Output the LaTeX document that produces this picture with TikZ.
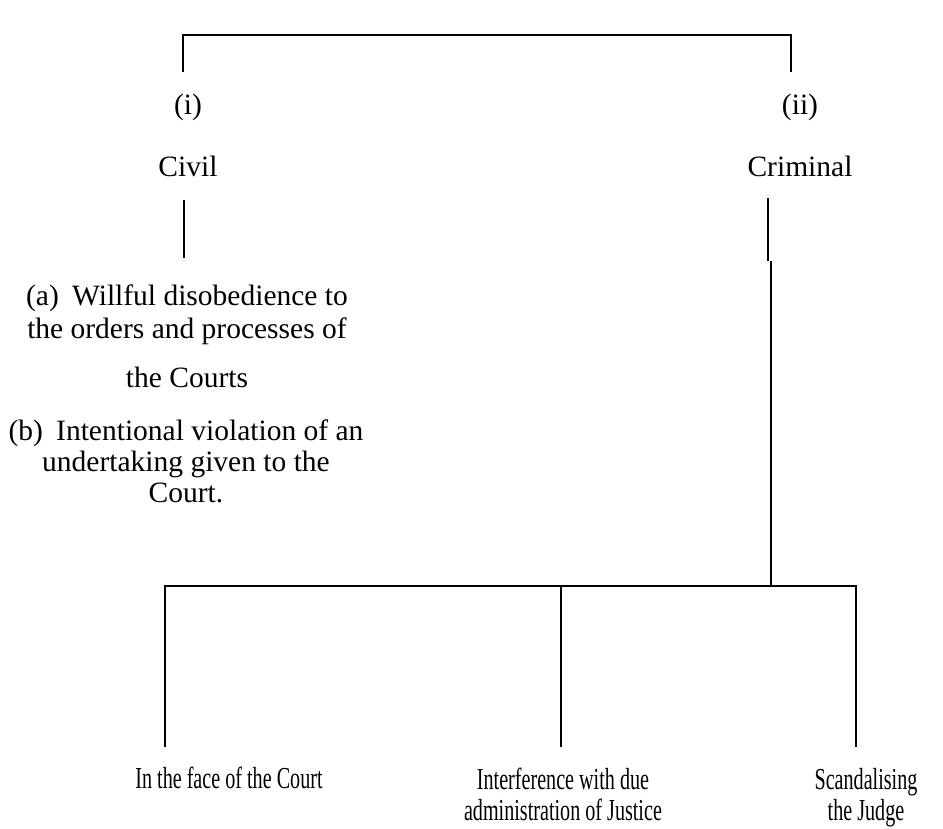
\documentclass[tikz,border=0pt]{standalone}
\usepackage{fontspec}
\setmainfont{Liberation Serif}
\newfontfamily\narrowserif[FakeStretch=0.66]{Liberation Serif}
\usetikzlibrary{positioning}
\tikzset {
    x=1pt,
    y=-1pt,
    every node/.style={inner sep=0pt, anchor=base},
    head/.style={font=\fontsize{29.5}{33}\selectfont, align=center},
    leaf/.style={font=\narrowserif\fontsize{30.5}{31}\selectfont, align=center},
    twig/.style={line width=1.6pt, line join=miter}
}
\begin{document}
\begin{tikzpicture}
                    \useasboundingbox (0,0) rectangle (943,829);

                    \node[head] (civnum) at (188,115) {(i)};
                    \node[head, below=62pt of civnum.base, anchor=base] (civil) {Civil};
                    \node[head] (crimnum) at (800,115) {(ii)};
                    \node[head, below=62pt of crimnum.base, anchor=base] (criminal) {Criminal};

                    \node[head] (itema) at (187,387) {(a)\hspace{0.45em}Willful disobedience to\\the orders and processes of\\[16pt]the Courts};
                    \node[head, font=\fontsize{29.5}{31}\selectfont] (itemb) at (186,502) {(b)\hspace{0.45em}Intentional violation of an\\undertaking given to the\\Court.};

                    \node[leaf] (face) at (229,788) {In the face of the Court};
                    \node[leaf] (interference) at (563,820) {Interference with due\\administration of Justice};
                    \node[leaf] (scandal) at (866,820) {Scandalising\\the Judge};

                    \coordinate (topL) at (183,35);
                    \coordinate (topR) at (791,35);
                    \coordinate (civdrop) at (183,72);
                    \coordinate (crimdrop) at (791,72);
                    \coordinate (civstem) at (184,200);
                    \coordinate (civstemend) at (184,258);
                    \coordinate (crimstem) at (768,198);
                    \coordinate (crimjog) at (768,261);
                    \coordinate (crimjog2) at (771,261);
                    \coordinate (hub) at (771,586);
                    \coordinate (barL) at (165,586);
                    \coordinate (barM) at (561,586);
                    \coordinate (barR) at (856,586);
                    \coordinate (faceend) at (165,747);
                    \coordinate (interend) at (561,747);
                    \coordinate (scandend) at (856,747);

                    \draw[twig] (civdrop) -- (topL) -- (topR) -- (crimdrop);
                    \draw[twig] (civstem) -- (civstemend);
                    \draw[twig] (crimstem) -- (crimjog);
                    \draw[twig] (crimjog2) -- (hub);
                    \draw[twig] (faceend) -- (barL) -- (barR) -- (scandend);
                    \draw[twig] (barM) -- (interend);
\end{tikzpicture}
\end{document}
